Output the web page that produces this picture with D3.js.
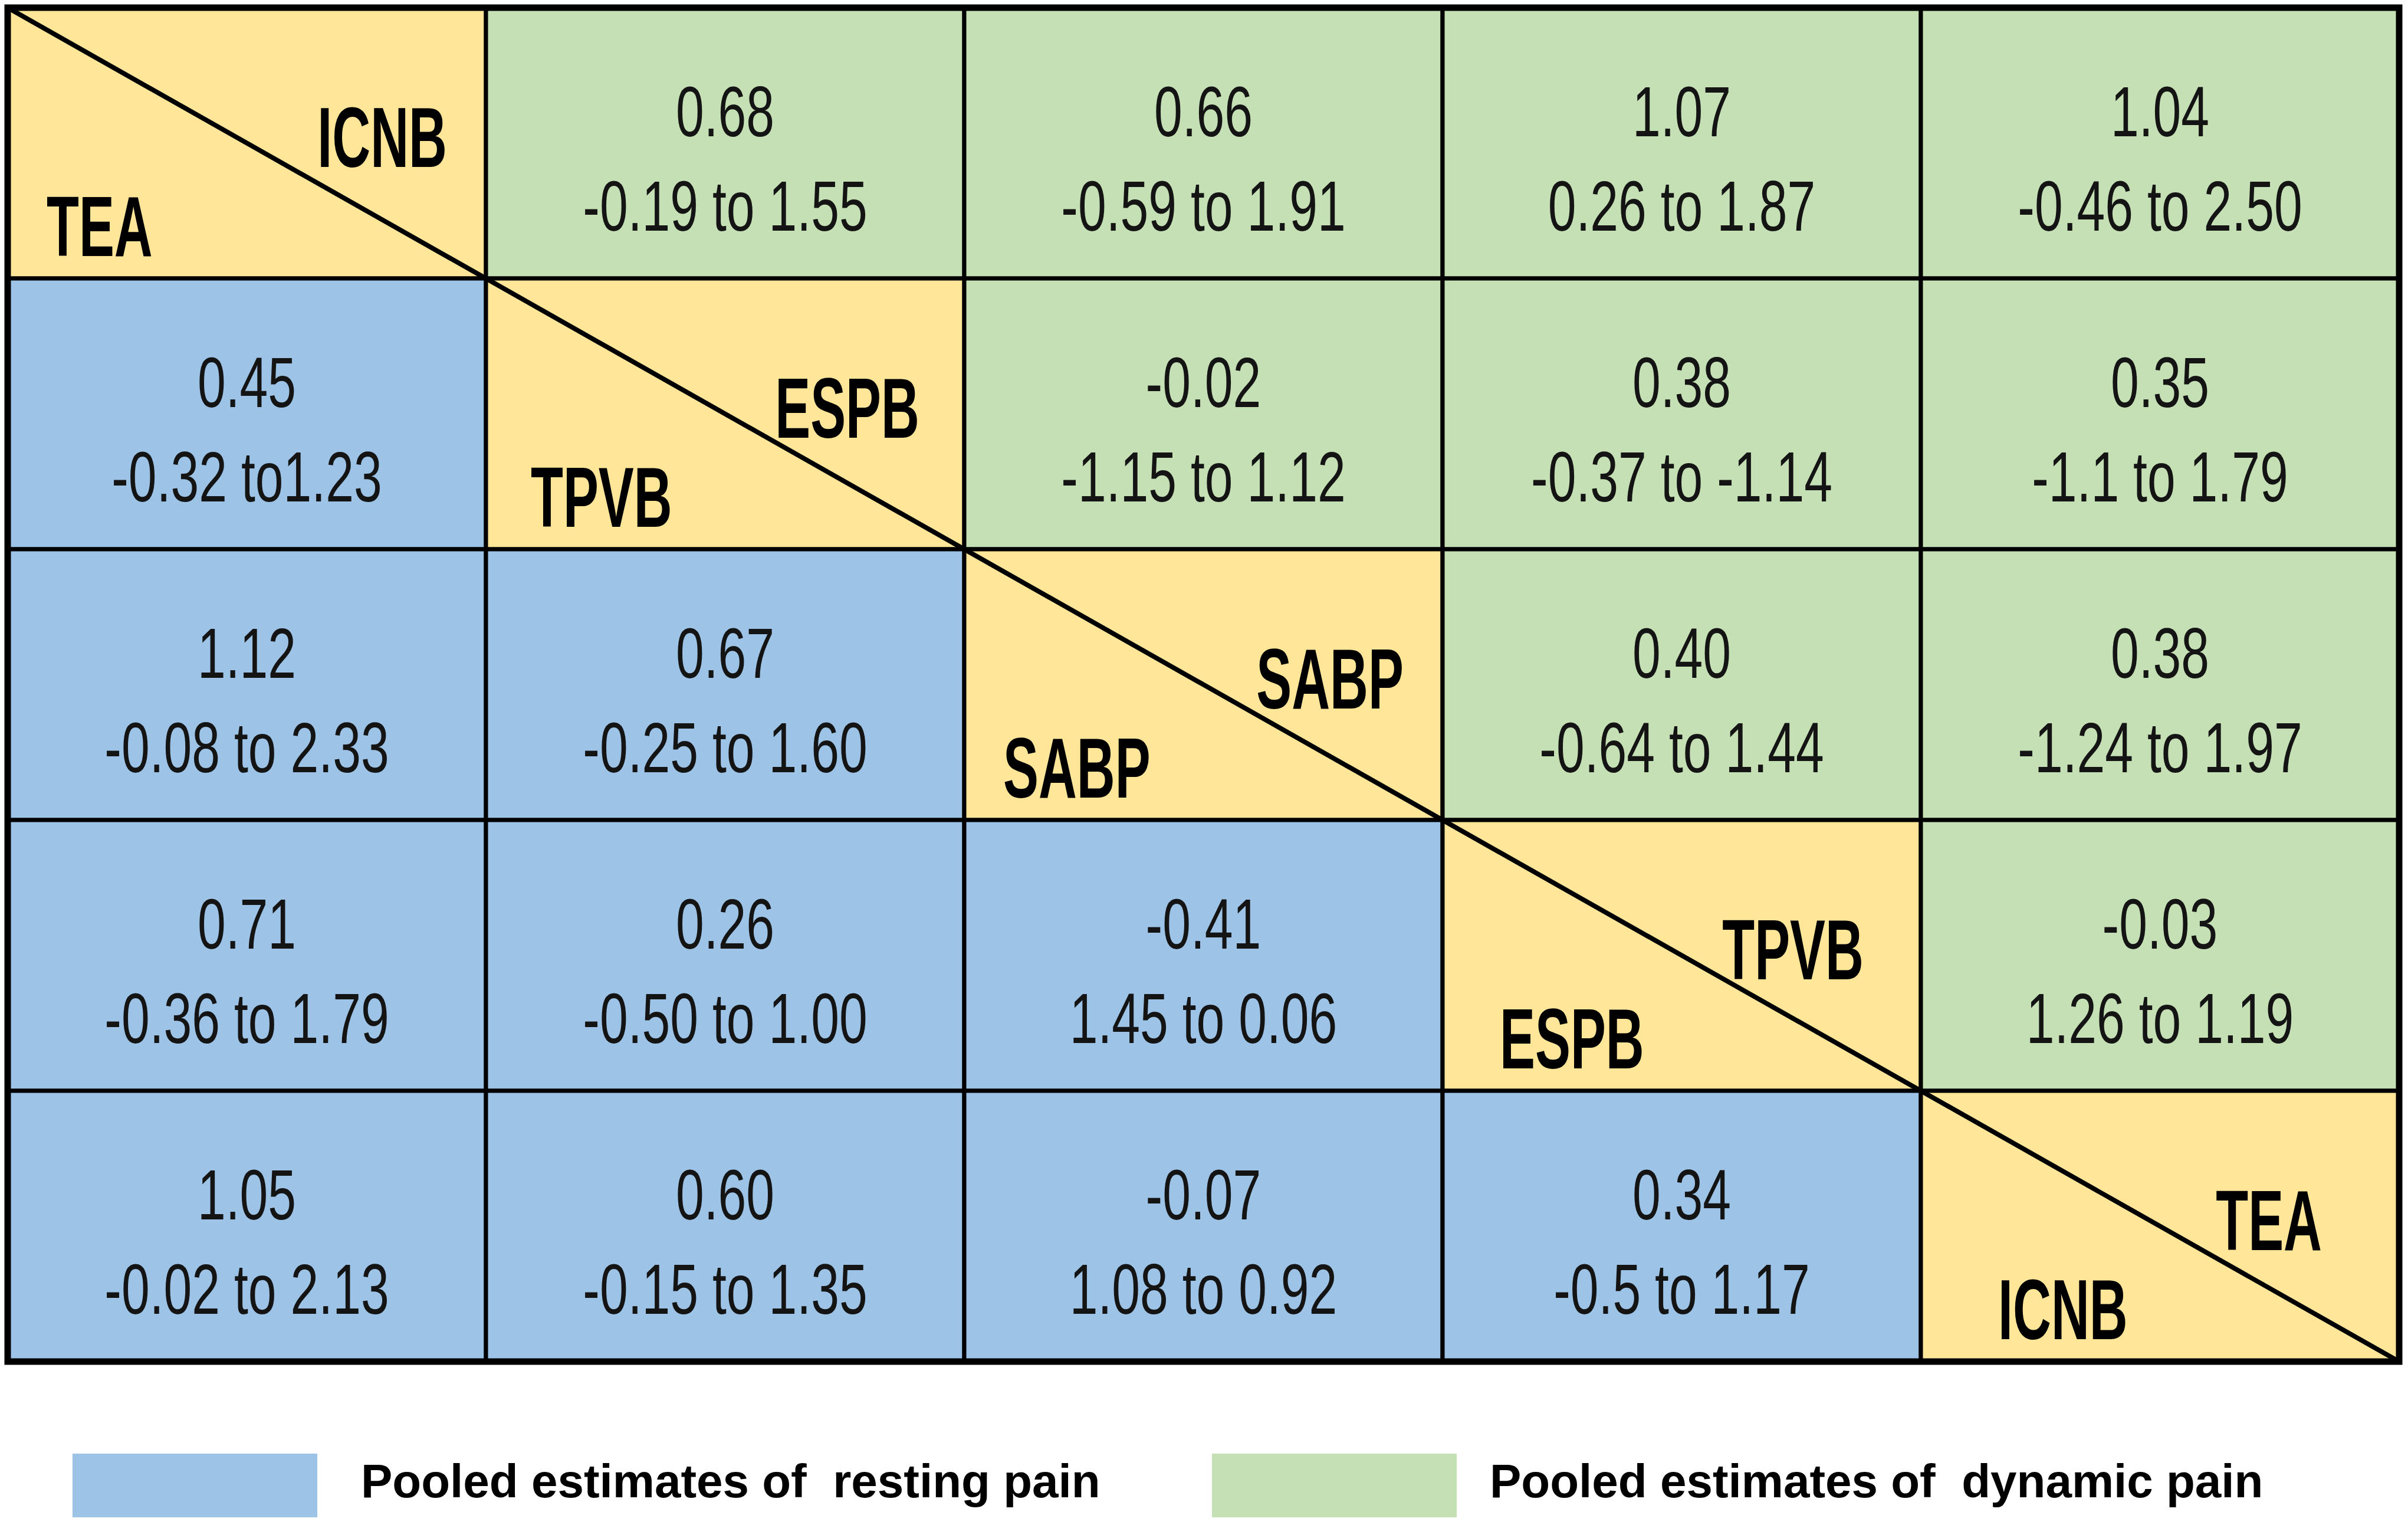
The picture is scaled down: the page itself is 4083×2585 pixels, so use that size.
<!DOCTYPE html>
<html lang="en">
<head>
  <meta charset="UTF-8">
  <title>Pooled estimates of resting and dynamic pain</title>
  <script src="https://d3js.org/d3.v7.min.js"></script>
  <style>
    body {
      margin: 0;
      background-color: #fff;
    }
    svg {
      display: block;
      font-family: "Liberation Sans", Arial, sans-serif;
    }
    .legend-label {
      white-space: pre;
    }
  </style>
</head>
<body>
<div id="chart"></div>

<script>
  // Blocks along the diagonal: lower-left name and upper-right name
  const rowBlocks = ["TEA", "TPVB", "SABP", "ESPB", "ICNB"];
  const colBlocks = ["ICNB", "ESPB", "SABP", "TPVB", "TEA"];

  // Point estimates (row, column); null on the diagonal
  const estimates = [
    [null,   "0.68",  "0.66",  "1.07", "1.04"],
    ["0.45", null,    "-0.02", "0.38", "0.35"],
    ["1.12", "0.67",  null,    "0.40", "0.38"],
    ["0.71", "0.26",  "-0.41", null,   "-0.03"],
    ["1.05", "0.60",  "-0.07", "0.34", null]
  ];

  // Confidence intervals, as printed
  const intervals = [
    [null,            "-0.19 to 1.55", "-0.59 to 1.91", "0.26 to 1.87",   "-0.46 to 2.50"],
    ["-0.32 to1.23",  null,            "-1.15 to 1.12", "-0.37 to -1.14", "-1.1 to 1.79"],
    ["-0.08 to 2.33", "-0.25 to 1.60", null,            "-0.64 to 1.44",  "-1.24 to 1.97"],
    ["-0.36 to 1.79", "-0.50 to 1.00", "1.45 to 0.06",  null,             "1.26 to 1.19"],
    ["-0.02 to 2.13", "-0.15 to 1.35", "1.08 to 0.92",  "-0.5 to 1.17",   null]
  ];

  const legendKeys = ["resting", "dynamic"];
  const legendLabels = ["Pooled estimates of  resting pain", "Pooled estimates of  dynamic pain"];

  // Colours
  const colorMap = {
    resting: "#9DC3E6",
    dynamic: "#C5E0B4",
    diagonal: "#FFE699"
  };

  const width = 4083;
  const height = 2585;

  const svg = d3.select("#chart")
    .append("svg")
    .attr("width", width)
    .attr("height", height);

  const idx = d3.range(rowBlocks.length);

  const x = d3.scaleBand().domain(idx).range([13, 4068]);
  const y = d3.scaleBand().domain(idx).range([13, 2308]);

  // Build the cell table
  const cells = [];
  idx.forEach(r => {
    idx.forEach(c => {
      cells.push({
        r, c,
        type: r === c ? "diagonal" : (r > c ? "resting" : "dynamic"),
        est: estimates[r][c],
        ci: intervals[r][c]
      });
    });
  });

  const grid = svg.append("g");

  grid.selectAll("rect.cell")
    .data(cells)
    .enter().append("rect")
    .attr("class", "cell")
    .attr("x", d => x(d.c))
    .attr("y", d => y(d.r))
    .attr("width", x.bandwidth())
    .attr("height", y.bandwidth())
    .style("fill", d => colorMap[d.type])
    .style("stroke", "#000")
    .style("stroke-width", 7);

  // Diagonal line through the whole table
  grid.append("line")
    .attr("x1", x(0))
    .attr("y1", y(0))
    .attr("x2", x(idx.length - 1) + x.bandwidth())
    .attr("y2", y(idx.length - 1) + y.bandwidth())
    .style("stroke", "#000")
    .style("stroke-width", 8);

  // Outer border
  grid.append("rect")
    .attr("x", x(0))
    .attr("y", y(0))
    .attr("width", x.range()[1] - x.range()[0])
    .attr("height", y.range()[1] - y.range()[0])
    .style("fill", "none")
    .style("stroke", "#000")
    .style("stroke-width", 11);

  // Numbers in the off-diagonal cells
  const numSize = 121;
  const numSqueeze = 0.71;
  const offDiag = cells.filter(d => d.type !== "diagonal");

  const numbers = svg.append("g")
    .style("font-size", numSize + "px")
    .style("fill", "#141414")
    .attr("text-anchor", "middle");

  numbers.selectAll("text.est")
    .data(offDiag)
    .enter().append("text")
    .attr("class", "est")
    .attr("transform", d => `translate(${x(d.c) + x.bandwidth() / 2},${y(d.r) + 218}) scale(${numSqueeze},1)`)
    .text(d => d.est);

  numbers.selectAll("text.ci")
    .data(offDiag)
    .enter().append("text")
    .attr("class", "ci")
    .attr("transform", d => `translate(${x(d.c) + x.bandwidth() / 2},${y(d.r) + 378}) scale(${numSqueeze},1)`)
    .text(d => d.ci);

  // Block names in the diagonal cells
  const labelSize = 145;
  const labelSqueeze = 0.62;
  const labelInset = [66, 76, 66, 97, 131];

  const labels = svg.append("g")
    .style("font-size", labelSize + "px")
    .style("font-weight", "bold")
    .style("fill", "#000");

  labels.selectAll("text.upper")
    .data(idx)
    .enter().append("text")
    .attr("class", "upper")
    .attr("text-anchor", "end")
    .attr("transform", i => `translate(${x(i) + x.bandwidth() - labelInset[i]},${y(i) + 270}) scale(${labelSqueeze},1)`)
    .text(i => colBlocks[i]);

  labels.selectAll("text.lower")
    .data(idx)
    .enter().append("text")
    .attr("class", "lower")
    .attr("text-anchor", "start")
    .attr("transform", i => `translate(${x(i) + labelInset[i]},${y(i) + y.bandwidth() - 38}) scale(${labelSqueeze},1)`)
    .text(i => rowBlocks[i]);

  // Legend
  const legendX = d3.scaleOrdinal().domain(legendKeys).range([123, 2055]);
  const legendTextX = d3.scaleOrdinal().domain(legendKeys).range([612, 2526]);

  const legend = svg.append("g")
    .selectAll("g")
    .data(legendKeys)
    .enter().append("g");

  legend.append("rect")
    .attr("x", d => legendX(d))
    .attr("y", 2464)
    .attr("width", 415)
    .attr("height", 108)
    .style("fill", d => colorMap[d]);

  legend.append("text")
    .attr("class", "legend-label")
    .attr("x", d => legendTextX(d))
    .attr("y", 2538)
    .style("font-size", "80px")
    .style("font-weight", "bold")
    .style("fill", "#000")
    .text((d, i) => legendLabels[i]);
</script>
</body>
</html>
